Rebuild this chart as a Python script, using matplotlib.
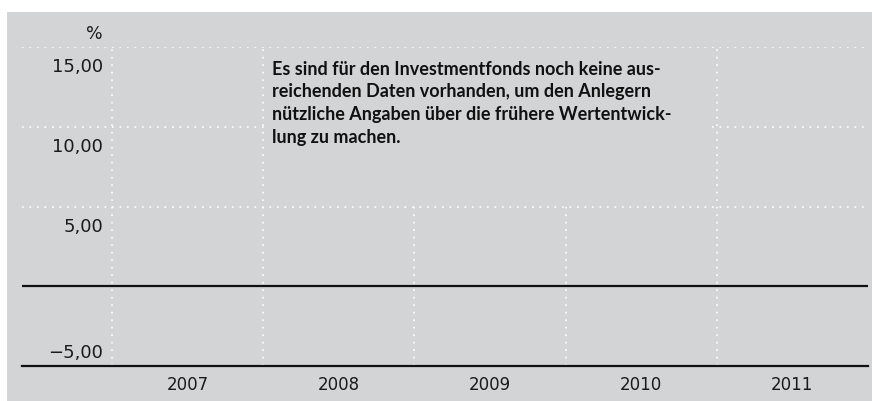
import matplotlib.pyplot as plt
from matplotlib.patches import Rectangle

# chart data
years = ['2007', '2008', '2009', '2010', '2011']
y_ticks = [15, 10, 5, -5]
y_labels = ['15,00', '10,00', '5,00', '\u22125,00']
unit = '%'
note = ('Es sind für den Investmentfonds noch keine aus-\n'
        'reichenden Daten vorhanden, um den Anlegern\n'
        'nützliche Angaben über die frühere Wertentwick-\n'
        'lung zu machen.')

bg = '#d3d4d6'
plt.rcParams['font.family'] = ['DejaVu Sans']
note_font = ['Lato', 'DejaVu Sans']

W, H = 872, 401
fig = plt.figure(figsize=(W / 100, H / 100), dpi=100, facecolor='white')
fig.patches.append(Rectangle((7 / W, 0), (W - 7) / W, (H - 12) / H,
                             transform=fig.transFigure, facecolor=bg,
                             edgecolor='none', zorder=-10))

ax = fig.add_axes([22 / W, (H - 366) / H, 846 / W, (366 - 47) / H])
ax.set_facecolor('none')
ax.set_zorder(1)
col = 151
ax.set_xlim(-0.5 - 90 / col, len(years) - 0.5)
ax.set_ylim(-5, 15)
for s in ax.spines.values():
    s.set_visible(False)
ax.set_xticks([])
ax.set_yticks([])

dots = (0, (1, 3.5))
# horizontal dotted grid
for v in [5, 10, 15]:
    ax.axhline(v, color='white', lw=1.2, ls=dots, zorder=1)
# vertical dotted grid at column boundaries
for i in range(len(years)):
    ax.vlines(i - 0.5, -5, 15, color='white', lw=1.2, ls=dots, zorder=1)

# box for the note hides the grid behind it
ax.add_patch(Rectangle((0.53, 5.15), 2.94, 9.7, facecolor=bg,
                       edgecolor='none', zorder=2))

# solid lines at 0 and -5
ax.axhline(0, color='#111111', lw=1.6, zorder=3)
ax.axhline(-5, color='#111111', lw=1.6, zorder=3, clip_on=False)

# y labels
lx = -0.5 - 9 / col
for v, lab in zip(y_ticks, y_labels):
    if v > 0:
        ax.annotate(lab, (lx, v), xytext=(0, -8), textcoords='offset points',
                    ha='right', va='top', fontsize=13, color='#1a1a1a')
    else:
        ax.annotate(lab, (lx, v), xytext=(0, 3), textcoords='offset points',
                    ha='right', va='bottom', fontsize=13, color='#1a1a1a')
ax.annotate(unit, (lx, 15), xytext=(0, 3), textcoords='offset points',
            ha='right', va='bottom', fontsize=12.5, color='#1a1a1a',
            annotation_clip=False)

# year labels
for i, y in enumerate(years):
    ax.annotate(y, (i, -5), xytext=(0, -7), textcoords='offset points',
                ha='center', va='top', fontsize=12, color='#1a1a1a',
                annotation_clip=False)

ax.text(0.5 + 9 / col, 15 - 0.85, note, ha='left', va='top', fontsize=13,
        fontweight='bold', family=note_font, color='#111111',
        linespacing=1.42, zorder=4)

fig.savefig('out.png', dpi=100, facecolor='white')
